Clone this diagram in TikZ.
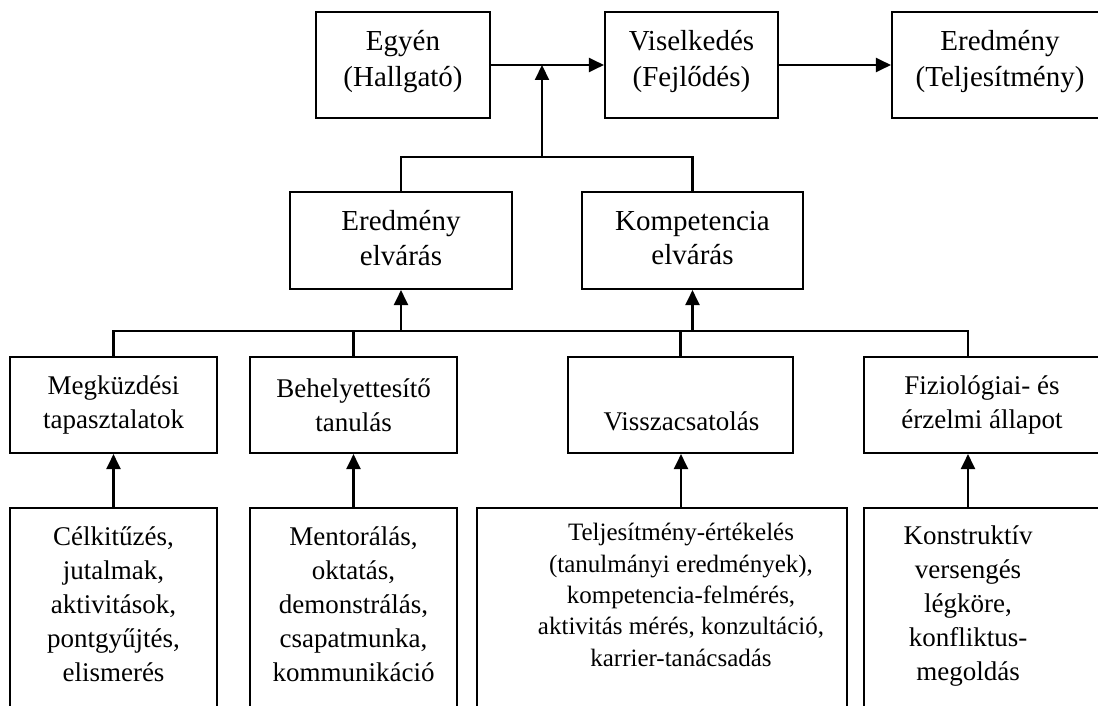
\documentclass[tikz,border=0pt]{standalone}
\usepackage{fontspec}
\setmainfont{Liberation Serif}
\usetikzlibrary{arrows.meta}
\begin{document}
\begin{tikzpicture}[x=1pt,y=-1pt,
  box/.style={draw, line width=2.1pt, inner sep=0pt, align=center},
  big/.style={font=\fontsize{29}{36}\selectfont, text depth=14pt},
  bigb/.style={font=\fontsize{29}{34.7}\selectfont, text depth=5pt},
  mid/.style={font=\fontsize{27}{34}\selectfont},
  small/.style={font=\fontsize{25}{31.3}\selectfont},
  link/.style={line width=2.1pt},
  arr/.style={line width=2.1pt, -{Triangle[length=15pt,width=14pt]}},
  txt/.style={align=center, inner sep=0pt}]
\useasboundingbox (0,0) rectangle (1098,706);
\clip (0,0) rectangle (1098,706);

% top row: person -> behaviour -> result
\node[box,big,minimum width=174,minimum height=106] (egyen) at (403,65) {Egyén\\(Hallgató)};
\node[box,big,minimum width=173,minimum height=106] (visel) at (691.5,65) {Viselkedés\\(Fejlődés)};
\node[box,big,minimum width=216,minimum height=106] (eredm) at (1000,65) {Eredmény\\(Teljesítmény)};

% expectations
\node[box,bigb,minimum width=222,minimum height=97] (ee) at (401,240.5) {Eredmény\\elvárás};
\node[box,bigb,minimum width=221,minimum height=97] (ke) at (692.5,240.5) {Kompetencia\\elvárás};

% sources of expectations
\node[box,mid,minimum width=207,minimum height=96] (megk) at (113.5,405) {Megküzdési\\tapasztalatok};
\node[box,mid,minimum width=207,minimum height=96] (behe) at (353.5,405) {Behelyettesítő\\tanulás};
\node[box,minimum width=225,minimum height=96] (vissza) at (680.5,405) {};
\node[txt,mid,anchor=base] (visszat) at (681.5,430) {Visszacsatolás};
\node[box,mid,minimum width=236,minimum height=96] (fizio) at (982,405) {Fiziológiai- és\\érzelmi állapot};

% tools (boxes run past the lower edge)
\node[box,minimum width=207,minimum height=230,anchor=north] (celb) at (113.5,507) {};
\node[txt,mid] (celt) at (113.5,604) {Célkitűzés,\\jutalmak,\\aktivitások,\\pontgyűjtés,\\elismerés};
\node[box,minimum width=207,minimum height=230,anchor=north] (menb) at (353.5,507) {};
\node[txt,mid] (ment) at (353.5,604) {Mentorálás,\\oktatás,\\demonstrálás,\\csapatmunka,\\kommunikáció};
\node[box,minimum width=370,minimum height=230,anchor=north] (teljb) at (662,507) {};
\node[txt,small] (teljt) at (681,595) {Teljesítmény-értékelés\\(tanulmányi eredmények),\\kompetencia-felmérés,\\aktivitás mérés, konzultáció,\\karrier-tanácsadás};
\node[box,minimum width=250,minimum height=230,anchor=north] (konb) at (989,507) {};
\node[txt,mid] (kont) at (968,606) {Konstruktív\\versengés\\légköre,\\konfliktus-\\megoldás};

% connectors
\draw[arr] (egyen) -- (visel);
\draw[arr] (visel) -- (eredm);

\coordinate (hub) at (542,157);
\draw[link] (ee.north) -- (ee.north |- hub) -- (ke.north |- hub) -- (ke.north);
\draw[arr] (hub) -- (hub |- egyen.east);

\coordinate (bar) at (0,331);
\draw[link] (megk.north) -- (megk.north |- bar) -- (kont |- bar) -- (kont |- fizio.north);
\draw[link] (behe.north) -- (behe.north |- bar);
\draw[link] (vissza.north) -- (vissza.north |- bar);
\draw[arr] (ee.south |- bar) -- (ee.south);
\draw[arr] (ke.south |- bar) -- (ke.south);

\draw[arr] (celb.north) -- (megk.south);
\draw[arr] (menb.north) -- (behe.south);
\draw[arr] (teljt |- teljb.north) -- (teljt |- vissza.south);
\draw[arr] (kont |- konb.north) -- (kont |- fizio.south);
\end{tikzpicture}
\end{document}
